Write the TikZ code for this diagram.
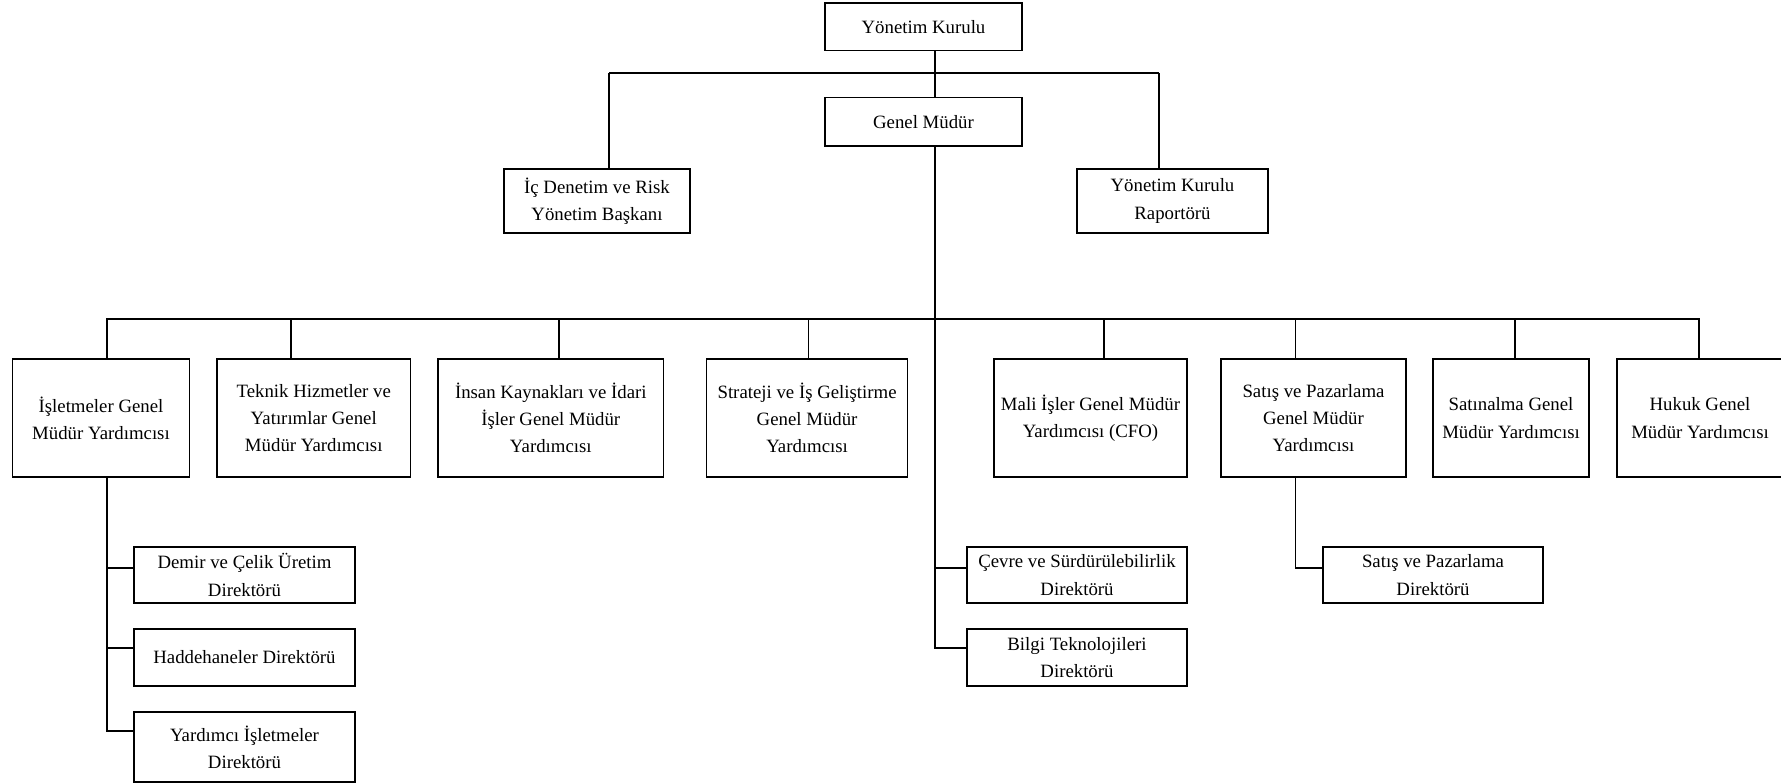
\documentclass[tikz,border=0pt]{standalone}
\usepackage{fontspec}
\setmainfont{Liberation Serif}
\begin{document}
\begin{tikzpicture}[x=1pt,y=1pt,
  box/.style={draw, line width=1.5pt, inner sep=0pt, align=center, fill=white,
    font=\fontsize{18.8}{27.3}\selectfont},
  bus/.style={line width=1.6pt},
  thinline/.style={line width=1.2pt},
  trunk/.style={line width=2.2pt}]
\useasboundingbox[fill=white] (0,0) rectangle (1781,-784);
% top level
\node[box, minimum width=197pt, minimum height=47.5pt] (yk) at (923.5,-26.75) {Yönetim Kurulu};
\node[box, minimum width=197pt, minimum height=48.7pt] (gm) at (923.5,-121.7) {Genel Müdür};
\node[box, minimum width=186pt, minimum height=64pt] (ic) at (597,-201) {İç Denetim ve Risk\\Yönetim Başkanı};
\node[box, minimum width=191pt, minimum height=64pt] (rap) at (1172.5,-201) {Yönetim Kurulu\\Raportörü};
% second level
\node[box, minimum width=177pt, minimum height=118pt] (isl) at (101,-418) {İşletmeler Genel\\Müdür Yardımcısı};
\node[box, minimum width=193.5pt, minimum height=118pt] (tek) at (313.75,-418) {Teknik Hizmetler ve\\Yatırımlar Genel\\Müdür Yardımcısı};
\node[box, minimum width=225.6pt, minimum height=118pt] (ins) at (550.8,-418) {İnsan Kaynakları ve İdari\\İşler Genel Müdür\\Yardımcısı};
\node[box, minimum width=201pt, minimum height=118pt] (str) at (807.1,-418) {Strateji ve İş Geliştirme\\Genel Müdür\\Yardımcısı};
\node[box, minimum width=193pt, minimum height=118pt] (mali) at (1090.5,-418) {Mali İşler Genel Müdür\\Yardımcısı (CFO)};
\node[box, minimum width=185pt, minimum height=118pt] (sat) at (1313.5,-418) {Satış ve Pazarlama\\Genel Müdür\\Yardımcısı};
\node[box, minimum width=156pt, minimum height=118pt] (satin) at (1511,-418) {Satınalma Genel\\Müdür Yardımcısı};
\node[box, minimum width=166pt, minimum height=118pt] (huk) at (1700,-418) {Hukuk Genel\\Müdür Yardımcısı};
% third level
\node[box, minimum width=221pt, minimum height=56pt] (dem) at (244.5,-575) {Demir ve Çelik Üretim\\Direktörü};
\node[box, minimum width=221pt, minimum height=57pt] (had) at (244.5,-657.5) {Haddehaneler Direktörü};
\node[box, minimum width=221pt, minimum height=70pt] (yrd) at (244.5,-747) {Yardımcı İşletmeler\\Direktörü};
\node[box, minimum width=220pt, minimum height=56pt] (cev) at (1077,-575) {Çevre ve Sürdürülebilirlik\\Direktörü};
\node[box, minimum width=220pt, minimum height=57pt] (bil) at (1077,-657.5) {Bilgi Teknolojileri\\Direktörü};
\node[box, minimum width=220pt, minimum height=56pt] (sdir) at (1433,-575) {Satış ve Pazarlama\\Direktörü};
% connector helpers
\coordinate (busA) at (935,-73.3);
\coordinate (busB) at (935,-319);
\coordinate (icv) at ([xshift=12pt]ic.north);
\coordinate (rapv) at ([xshift=-13.5pt]rap.north);
\coordinate (islv) at ([xshift=6pt]isl.south);
\coordinate (satv) at ([xshift=-18pt]sat.south);
% connectors
\draw[trunk] ([xshift=11.5pt]yk.south) -- ([xshift=11.5pt]gm.north);
\draw[bus] (icv |- busA) -- (rapv |- busA);
\draw[thinline] (icv) -- (icv |- busA);
\draw[thinline] (rapv) -- (rapv |- busA);
\draw[trunk] ([xshift=11.5pt]gm.south) |- ([yshift=9.5pt]bil.west);
\draw[bus] ([yshift=7pt]cev.west) -- ([yshift=7pt]cev.west -| busA);
\draw[bus] ([xshift=6pt]isl.north) |- (busB) -| ([xshift=-1pt]huk.north);
\draw[bus] ([xshift=-22.7pt]tek.north) -- ([xshift=-22.7pt]tek.north |- busB);
\draw[bus] ([xshift=8pt]ins.north) -- ([xshift=8pt]ins.north |- busB);
\draw[thinline] ([xshift=1pt]str.north) -- ([xshift=1pt]str.north |- busB);
\draw[thinline] ([xshift=13.5pt]mali.north) -- ([xshift=13.5pt]mali.north |- busB);
\draw[thinline] ([xshift=-18pt]sat.north) -- ([xshift=-18pt]sat.north |- busB);
\draw[thinline] ([xshift=4pt]satin.north) -- ([xshift=4pt]satin.north |- busB);
\draw[bus] (islv) |- ([yshift=16pt]yrd.west);
\draw[bus] ([yshift=7pt]dem.west) -- ([yshift=7pt]dem.west -| islv);
\draw[bus] ([yshift=9.5pt]had.west) -- ([yshift=9.5pt]had.west -| islv);
\draw[bus] (satv) |- ([yshift=7pt]sdir.west);
\end{tikzpicture}
\end{document}
